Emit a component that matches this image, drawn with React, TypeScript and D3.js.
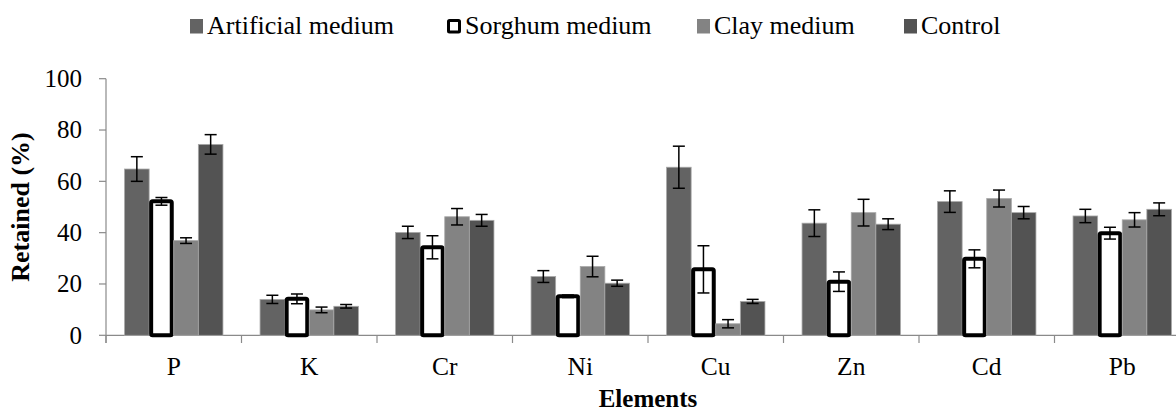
import React from "react";
import * as d3 from "d3";

// Elements on the x axis
const elements = ["P", "K", "Cr", "Ni", "Cu", "Zn", "Cd", "Pb"];

// Media (series)
const media = ["Artificial medium", "Sorghum medium", "Clay medium", "Control"];

// Retained percentage per medium, in element order
const artificial = [64.8, 14.0, 40.1, 22.9, 65.5, 43.7, 52.1, 46.5];
const sorghum = [52.2, 14.2, 34.3, 15.2, 25.7, 20.9, 29.8, 39.8];
const clay = [36.9, 9.9, 46.2, 26.8, 4.5, 47.8, 53.3, 45.0];
const control = [74.4, 11.3, 44.8, 20.3, 13.2, 43.3, 47.8, 49.1];

// Error bar half-widths (standard error), same order
const artificialErr = [4.8, 1.6, 2.4, 2.3, 8.2, 5.2, 4.2, 2.6];
const sorghumErr = [1.5, 1.9, 4.5, 0.5, 9.2, 3.8, 3.5, 2.3];
const clayErr = [1.1, 1.1, 3.2, 4.0, 1.6, 5.2, 3.3, 2.8];
const controlErr = [3.8, 0.7, 2.3, 1.2, 0.8, 2.1, 2.4, 2.5];

const yTicks = [0, 20, 40, 60, 80, 100];

const W = 1176;
const H = 415;
const FONT = "'Liberation Serif', 'Times New Roman', serif";

const seriesValues = [artificial, sorghum, clay, control];
const seriesErrors = [artificialErr, sorghumErr, clayErr, controlErr];

const fills = ["#636363", "#ffffff", "#838383", "#535353"];
const AXIS = "#8a8a8a";

export default function App() {
  const x0 = d3.scaleBand<string>().domain(elements).range([106, 1190]).padding(0);
  const step = x0.step();
  const x1 = d3
    .scaleBand<string>()
    .domain(media)
    .range([0, step])
    .paddingInner(0)
    .paddingOuter(0.754);
  const y = d3.scaleLinear().domain([0, 100]).range([335.3, 78.7]);
  const bw = x1.bandwidth();

  const legendX = [190, 447, 697, 904];

  return (
    <div style={{ position: "absolute", left: 0, top: 0 }}>
      <svg width={W} height={H} style={{ display: "block", background: "#fff" }}>
        <rect x={0} y={0} width={W} height={H} fill="#fff" />

        {/* Legend */}
        {media.map((m, i) => {
          const sx = legendX[i];
          const isSorghum = i === 1;
          return (
            <g key={m}>
              {isSorghum ? (
                <rect x={sx + 1.5} y={20.5} width={11} height={11.5} fill="#fff" stroke="#000" strokeWidth={3} rx={1} />
              ) : (
                <rect x={sx} y={19} width={13} height={14.5} fill={fills[i]} />
              )}
              <text x={sx + (isSorghum ? 18 : 17)} y={34} fontFamily={FONT} fontSize={26} fill="#000">
                {m}
              </text>
            </g>
          );
        })}

        {/* Y axis */}
        <line x1={106} x2={106} y1={y(100)} y2={343} stroke={AXIS} strokeWidth={1.2} />
        {yTicks.map((t) => (
          <g key={t}>
            <line x1={99} x2={106} y1={y(t)} y2={y(t)} stroke={AXIS} strokeWidth={1.2} />
            <text
              x={82}
              y={y(t) + 8.3}
              textAnchor="end"
              fontFamily={FONT}
              fontSize={25}
              fill="#000"
            >
              {t}
            </text>
          </g>
        ))}

        {/* X axis */}
        <line x1={106} x2={1190} y1={y(0)} y2={y(0)} stroke={AXIS} strokeWidth={1.2} />
        {elements.map((e) => (
          <line
            key={"tk" + e}
            x1={x0(e)!}
            x2={x0(e)!}
            y1={y(0)}
            y2={343}
            stroke={AXIS}
            strokeWidth={1.2}
          />
        ))}
        {elements.map((e) => (
          <text
            key={"lb" + e}
            x={x0(e)! + step / 2}
            y={375}
            textAnchor="middle"
            fontFamily={FONT}
            fontSize={25.5}
            fill="#000"
          >
            {e}
          </text>
        ))}

        {/* Bars */}
        {elements.map((e, ei) => (
          <g key={"g" + e} transform={`translate(${x0(e)},0)`}>
            {media.map((m, si) => {
              const v = seriesValues[si][ei];
              const bx = x1(m)!;
              if (si === 1) {
                return (
                  <rect
                    key={m}
                    x={bx + 2}
                    y={y(v)}
                    width={bw - 4}
                    height={y(0) - y(v)}
                    fill="#fff"
                    stroke="#000"
                    strokeWidth={4}
                    rx={1.5}
                  />
                );
              }
              return (
                <rect
                  key={m}
                  x={bx}
                  y={y(v)}
                  width={bw}
                  height={y(0) - y(v)}
                  fill={fills[si]}
                  stroke="#a8a8a8"
                  strokeWidth={0.8}
                />
              );
            })}
            {media.map((m, si) => {
              const v = seriesValues[si][ei];
              const err = seriesErrors[si][ei];
              const cx = x1(m)! + bw / 2;
              return (
                <g key={"e" + m} stroke="#000" strokeWidth={1.5}>
                  <line x1={cx} x2={cx} y1={y(v + err)} y2={y(v - err)} />
                  <line x1={cx - 6} x2={cx + 6} y1={y(v + err)} y2={y(v + err)} />
                  <line x1={cx - 6} x2={cx + 6} y1={y(v - err)} y2={y(v - err)} />
                </g>
              );
            })}
          </g>
        ))}

        {/* Axis titles */}
        <text
          x={648}
          y={407}
          textAnchor="middle"
          fontFamily={FONT}
          fontSize={25}
          fontWeight="bold"
          fill="#000"
        >
          Elements
        </text>
        <text
          transform={`translate(28.5,207) rotate(-90)`}
          textAnchor="middle"
          fontFamily={FONT}
          fontSize={26}
          fontWeight="bold"
          fill="#000"
        >
          Retained (%)
        </text>
      </svg>
    </div>
  );
}
